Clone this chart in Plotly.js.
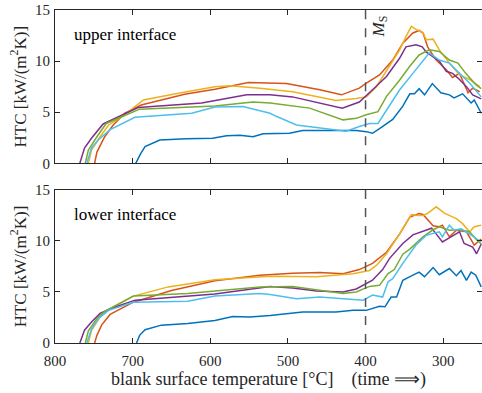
<!DOCTYPE html>
<html><head><meta charset="utf-8">
<script src="https://cdn.plot.ly/plotly-3.0.1.min.js"></script>
<style>html,body{margin:0;padding:0;background:#fff;}#chart{width:482px;height:393px;}</style>
</head><body><div id="chart"></div>
<script>
// ---- upper interface ----
const upBlueT   = [696,690,684,665,631,597,579,562,545,532,498,481,451,412,399,391,382,365,352,343,337,331,324,314,303,292,286,275,264,260,251];
const upBlueY   = [0,0.9,1.63,2.28,2.4,2.45,2.7,2.75,2.6,2.9,2.94,3.2,3.2,3.2,3.1,2.94,3.4,4.3,5.6,6.8,6.8,7.3,6.7,7.8,6.9,6.7,6.4,6.8,5.9,6.2,4.9];
const upOrangeT = [749,746,736,725,710,689,633,594,551,523,502,459,431,408,399,382,365,352,339,331,326,320,309,296,288,279,268,262,253];
const upOrangeY = [0,1.1,2.6,3.75,4.9,5.7,6.75,7.25,7.9,7.85,7.8,7.2,6.7,7.35,7.85,8.65,10.1,11.75,12.75,13.0,12.75,11.4,10.1,9.15,8.4,8.8,6.9,7.35,7.0];
const upYellowT = [757,753,742,731,714,686,641,616,594,575,536,494,438,412,399,386,369,356,348,341,335,326,322,313,305,292,279,266,253];
const upYellowY = [0,1.3,2.6,3.75,4.55,6.2,6.85,7.2,7.5,7.6,7.35,7.0,6.15,6.35,6.5,7.5,9.5,11.1,12.4,13.4,13.1,12.8,12.1,12.15,11.1,9.8,8.65,8.2,7.5];
const upPurpleT = [768,762,753,738,714,693,611,594,553,523,494,430,408,391,373,356,348,335,327,322,305,296,288,279,270,262,251];
const upPurpleY = [0,1.5,2.45,3.85,4.7,5.45,5.9,6.15,6.7,6.7,6.5,5.4,6.0,7.2,8.5,10.3,11.4,11.6,11.4,10.9,10.0,9.0,8.8,8.2,7.5,6.7,6.3];
const upGreenT  = [761,757,746,734,714,691,594,545,523,472,429,412,399,384,373,356,343,331,318,305,292,281,271,258,251];
const upGreenY  = [0,1.3,2.6,3.9,4.55,5.3,5.6,6.0,5.9,5.4,4.25,4.4,4.75,5.05,6.55,8.15,9.5,10.6,11.1,10.95,10.1,9.8,8.8,7.7,7.3];
const upCyanT   = [759,753,744,729,697,624,594,558,523,515,489,463,425,408,395,384,373,356,339,326,318,305,292,279,266,251];
const upCyanY   = [0,1.5,2.3,3.3,4.5,4.9,5.5,5.55,4.9,4.6,3.75,3.5,3.15,3.6,3.9,3.9,5.2,7.2,8.8,10.1,10.8,10.1,9.8,8.8,7.85,6.5];
// ---- lower interface ----
const loBlueT   = [695,691,684,663,629,594,571,549,523,502,481,438,416,399,382,375,367,360,352,339,331,324,313,305,292,283,277,270,264,258,251];
const loBlueY   = [0,0.75,1.3,1.75,1.9,2.2,2.6,2.55,2.7,2.9,3.05,3.05,3.2,3.2,3.6,3.55,4.5,4.5,6.15,6.65,6.95,6.5,7.4,6.7,7.3,6.6,7.1,6.15,6.95,6.65,5.5];
const loOrangeT = [749,746,740,729,699,650,594,536,494,459,429,408,391,373,356,343,331,326,313,305,301,292,283,270,260,251];
const loOrangeY = [0,0.75,1.75,2.8,4.0,5.15,6.1,6.65,6.85,6.9,6.8,7.2,7.8,8.9,10.7,12.35,12.7,12.6,11.5,11.4,11.55,10.4,11.05,10.9,9.6,10.2];
const loYellowT = [757,753,742,731,699,654,594,523,463,416,395,386,373,356,341,333,326,320,309,298,283,275,266,260,251];
const loYellowY = [0,1.25,2.55,3.25,4.6,5.5,6.2,6.55,6.5,6.8,7.1,7.6,8.75,10.7,12.6,12.5,12.5,12.7,13.35,12.7,12.2,11.7,10.9,11.4,11.55];
const loPurpleT = [768,762,753,742,727,697,594,523,494,463,429,412,391,378,369,352,339,328,315,309,301,290,279,273,262,257,251];
const loPurpleY = [0,1.25,2.05,2.9,3.4,4.2,4.8,5.55,5.4,5.1,5.0,5.3,6.15,7.2,8.3,9.75,10.6,10.9,11.25,10.7,9.9,10.4,10.9,9.75,9.4,8.75,9.7];
const loGreenT  = [761,757,746,736,699,629,594,536,494,463,429,412,395,382,371,363,352,343,326,313,305,292,279,266,258,251];
const loGreenY  = [0,1.2,2.4,3.1,4.6,4.85,5.1,5.5,5.55,5.2,4.85,5.0,5.55,5.65,6.8,7.2,8.7,9.2,10.4,11.1,11.4,11.05,11.1,10.9,10.2,9.7];
const loCyanT   = [759,753,744,731,699,629,594,536,523,489,459,433,403,391,378,371,365,352,335,322,305,301,292,286,277,266,251];
const loCyanY   = [0,1.4,2.4,3.2,4.0,4.1,4.6,4.85,4.75,4.35,4.5,4.35,4.2,4.7,4.5,6.0,6.3,7.8,9.6,10.55,10.9,10.4,11.55,11.05,11.2,10.7,9.9];

const xTicks = [800,700,600,500,400,300];
const yTicks = [0,5,10,15];
const msTemp = 400;

const C = {blue:'#0072BD', orange:'#D95319', yellow:'#EDB120', purple:'#7E2F8E', green:'#77AC30', cyan:'#4DBEEE'};
function tr(x,y,col,xa,ya){return {x:x,y:y,type:'scatter',mode:'lines',line:{color:col,width:1.5},xaxis:xa,yaxis:ya,hoverinfo:'skip',showlegend:false};}
const data = [
  tr(upBlueT,upBlueY,C.blue,'x2','y2'), tr(upOrangeT,upOrangeY,C.orange,'x2','y2'), tr(upYellowT,upYellowY,C.yellow,'x2','y2'),
  tr(upPurpleT,upPurpleY,C.purple,'x2','y2'), tr(upGreenT,upGreenY,C.green,'x2','y2'), tr(upCyanT,upCyanY,C.cyan,'x2','y2'),
  tr(loBlueT,loBlueY,C.blue,'x','y'), tr(loOrangeT,loOrangeY,C.orange,'x','y'), tr(loYellowT,loYellowY,C.yellow,'x','y'),
  tr(loPurpleT,loPurpleY,C.purple,'x','y'), tr(loGreenT,loGreenY,C.green,'x','y'), tr(loCyanT,loCyanY,C.cyan,'x','y')
];
const ax = '#262626';
const fontF = 'Liberation Serif, Times New Roman, serif';
const baseX = {range:[800,250], tickvals:xTicks, ticks:'inside', ticklen:5, tickcolor:ax, showline:true, linecolor:ax, linewidth:1, mirror:'ticks', showgrid:false, zeroline:false, fixedrange:true};
const baseY = {range:[0,15], tickvals:yTicks, ticks:'inside', ticklen:5, tickcolor:ax, showline:true, linecolor:ax, linewidth:1, mirror:'ticks', showgrid:false, zeroline:false, fixedrange:true, ticklabelstandoff:1};
const ytitle = {text:'HTC [kW/(m<sup>2</sup>K)]', font:{size:17}, standoff:4};
const layout = {
  width:482, height:393, margin:{l:55,r:0,t:10,b:50},
  paper_bgcolor:'#fff', plot_bgcolor:'#fff',
  font:{family:fontF, size:15, color:'#262626'},
  xaxis: Object.assign({}, baseX, {anchor:'y', ticklabelstandoff:4, title:{text:'blank surface temperature [°C]    (time ⟹)', font:{size:18}, standoff:2}}),
  xaxis2: Object.assign({}, baseX, {anchor:'y2', showticklabels:false, matches:'x'}),
  yaxis: Object.assign({}, baseY, {domain:[0,0.4595], anchor:'x', title:ytitle}),
  yaxis2: Object.assign({}, baseY, {domain:[0.5396,1], anchor:'x2', title:ytitle}),
  shapes:[
    {type:'line', xref:'x2', yref:'y2 domain', x0:msTemp, x1:msTemp, y0:0, y1:1, line:{color:'#555', width:1.5, dash:'dash'}},
    {type:'line', xref:'x', yref:'y domain', x0:msTemp, x1:msTemp, y0:0, y1:1, line:{color:'#555', width:1.5, dash:'dash'}}
  ],
  annotations:[
    {text:'upper interface', xref:'x2 domain', yref:'y2 domain', x:0.04, y:0.84, xanchor:'left', yanchor:'middle', showarrow:false, font:{size:17, color:'#000'}},
    {text:'lower interface', xref:'x domain', yref:'y domain', x:0.04, y:0.84, xanchor:'left', yanchor:'middle', showarrow:false, font:{size:17, color:'#000'}},
    {text:'<i>M</i><sub>S</sub>', xref:'x2', yref:'y2 domain', x:msTemp, y:0.89, xanchor:'left', yanchor:'middle', xshift:1, textangle:-90, showarrow:false, font:{size:17, color:'#262626'}}
  ]
};
Plotly.newPlot('chart', data, layout, {staticPlot:true, displayModeBar:false});
</script></body></html>
